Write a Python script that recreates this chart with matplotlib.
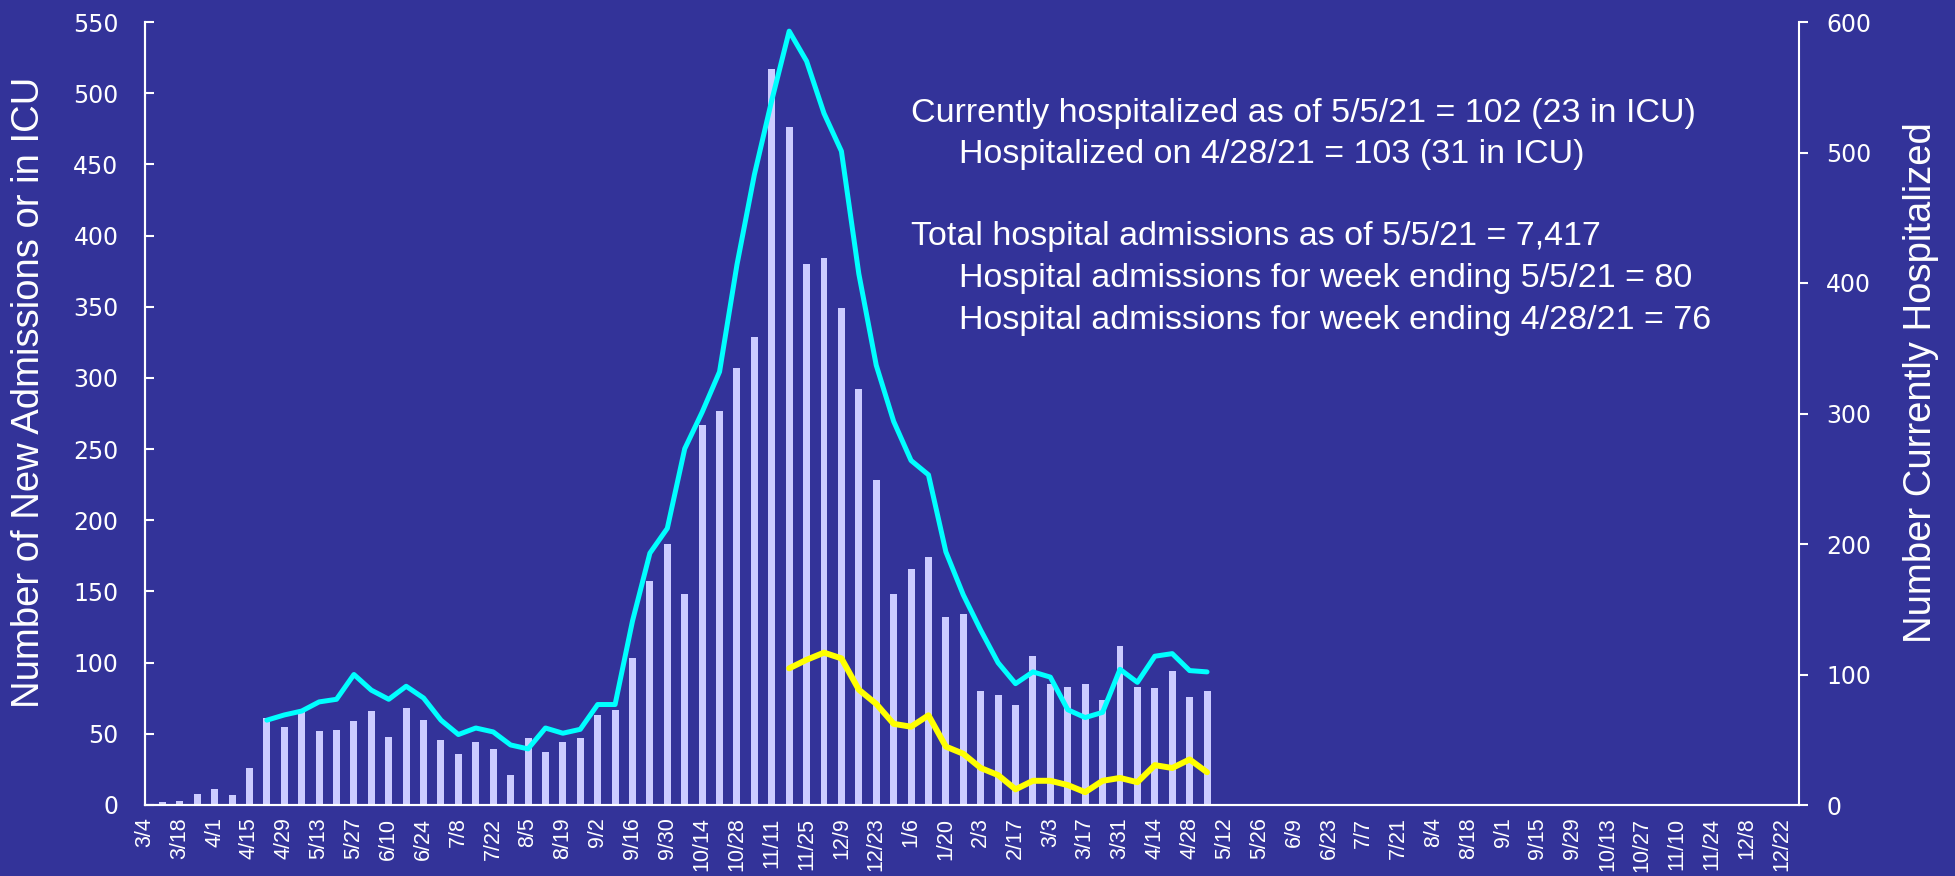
import matplotlib
matplotlib.use("Agg")
import matplotlib.pyplot as plt

plt.rcParams['font.family'] = ['Liberation Sans', 'DejaVu Sans']

# weekly data, week 0 = 3/4/20
admissions = [0, 2, 3, 8, 11, 7, 26, 61, 55, 65, 52, 53, 59, 66, 48, 68, 60, 46,
              36, 44, 39, 21, 47, 37, 44, 47, 63, 67, 103, 157, 183, 148, 267, 277,
              307, 329, 517, 476, 380, 384, 349, 292, 228, 148, 166, 174, 132, 134,
              80, 77, 70, 105, 85, 83, 85, 74, 112, 83, 82, 94, 76, 80]

hosp_start = 7   # 4/22/20
hospitalized = [65, 69, 72, 79, 81, 100, 88, 81, 91, 82, 65, 54, 59, 56, 46, 43,
                59, 55, 58, 77, 77, 141, 193, 212, 273, 301, 332, 414, 483, 540,
                593, 570, 530, 501, 407, 337, 294, 264, 253, 194, 161, 134, 109,
                93, 102, 98, 73, 67, 71, 104, 94, 114, 116, 103, 102]

icu_start = 37   # 11/18/20
icu = [96, 102, 107, 103, 81, 71, 57, 55, 63, 41, 36, 26, 21, 11, 17, 17, 14, 9,
       17, 19, 16, 28, 26, 32, 23]

n_weeks = 95
tick_labels = ['3/4', '3/18', '4/1', '4/15', '4/29', '5/13', '5/27', '6/10', '6/24',
               '7/8', '7/22', '8/5', '8/19', '9/2', '9/16', '9/30', '10/14', '10/28',
               '11/11', '11/25', '12/9', '12/23', '1/6', '1/20', '2/3', '2/17', '3/3',
               '3/17', '3/31', '4/14', '4/28', '5/12', '5/26', '6/9', '6/23', '7/7',
               '7/21', '8/4', '8/18', '9/1', '9/15', '9/29', '10/13', '10/27',
               '11/10', '11/24', '12/8', '12/22']

notes = ["Currently hospitalized as of 5/5/21 = 102 (23 in ICU)",
         "Hospitalized on 4/28/21 = 103 (31 in ICU)",
         "Total hospital admissions as of 5/5/21 = 7,417",
         "Hospital admissions for week ending 5/5/21 = 80",
         "Hospital admissions for week ending 4/28/21 = 76"]

bg = '#333399'
W, H = 1956, 876

fig = plt.figure(figsize=(W / 100, H / 100), dpi=100, facecolor=bg)
ax = fig.add_axes([145 / W, 1 - 805 / H, (1799 - 145) / W, (805 - 22) / H])
ax.set_facecolor(bg)
ax2 = ax.twinx()

x_adm = list(range(len(admissions)))
ax.bar(x_adm, admissions, width=0.4, color='#ccccff', zorder=1)

x_icu = [icu_start + i for i in range(len(icu))]
ax.plot(x_icu, icu, color='#ffff00', lw=4.3, solid_joinstyle='round',
        solid_capstyle='round', zorder=3)

x_hosp = [hosp_start + i for i in range(len(hospitalized))]
ax2.plot(x_hosp, hospitalized, color='#00ffff', lw=3.6, solid_joinstyle='round',
         solid_capstyle='round', zorder=3)

ax.set_xlim(0, n_weeks)
ax.set_ylim(0, 550)
ax2.set_ylim(0, 600)
ax.set_yticks(range(0, 551, 50))
ax2.set_yticks(range(0, 601, 100))
ax.set_xticks(range(0, n_weeks, 2))
ax.set_xticklabels(tick_labels, rotation=90, va='top', ha='center')

for a in (ax, ax2):
    for s in a.spines.values():
        s.set_color('white')
        s.set_linewidth(1.5)
    a.spines['top'].set_visible(False)
ax.spines['right'].set_visible(False)

ax.tick_params(axis='y', direction='in', length=6.5, width=1.5, colors='white',
               labelsize=17, pad=19)
ax.tick_params(axis='x', length=0, colors='white', labelsize=15.5, pad=9)
ax2.tick_params(axis='y', direction='out', length=6.5, width=1.5, colors='white',
                labelsize=17, pad=13)
for lab in ax.get_yticklabels() + ax2.get_yticklabels():
    lab.set_family('DejaVu Sans')

fig.text(29 / W, 1 - 392 / H, "Number of New Admissions or in ICU", rotation=90,
         ha='center', va='center', color='white', fontsize=27.5)
fig.text(1921 / W, 1 - 383 / H, "Number Currently Hospitalized", rotation=90,
         ha='center', va='center', color='white', fontsize=27.5)

note_x = [911, 959, 911, 959, 959]
note_y = [122, 163, 245, 287, 329]
for t, nx, ny in zip(notes, note_x, note_y):
    fig.text(nx / W, 1 - ny / H, t, ha='left', va='baseline', color='white',
             fontsize=24.5)

fig.savefig('out.png', dpi=100, facecolor=bg)
